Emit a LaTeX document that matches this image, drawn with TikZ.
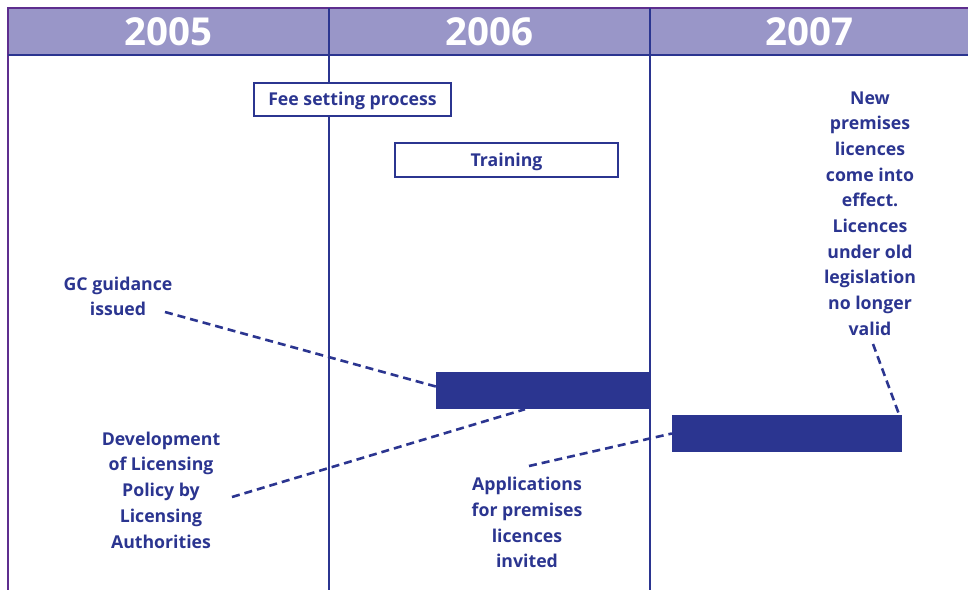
\documentclass[tikz,border=0pt]{standalone}
\usepackage{fontspec}
\setmainfont{Open Sans}
\usetikzlibrary{calc}
\definecolor{dblue}{HTML}{2B3590}
\definecolor{hdr}{HTML}{9996C8}
\definecolor{purp}{HTML}{5E2E8E}
\begin{document}
\begin{tikzpicture}[x=1pt,y=-1pt,
  lbl/.style={text=dblue,font=\fontsize{17.7}{25.7}\selectfont\bfseries,align=center,inner sep=0pt},
  boxed/.style={draw=dblue,line width=2pt,text=dblue,font=\fontsize{17.7}{20}\selectfont\bfseries,inner sep=0pt},
  bar/.style={fill=dblue,draw=none,inner sep=0pt},
  yr/.style={text=white,font=\fontsize{38.5}{40}\selectfont\bfseries,inner sep=0pt},
  lead/.style={draw=dblue,line width=2.6pt,dash pattern=on 8pt off 5pt}]
\useasboundingbox (0,0) rectangle (968,590);
% header
\fill[hdr] (8,8) rectangle (968,55);
\draw[purp,line width=2pt] (968,8) -- (8,8) -- (8,590);
\draw[dblue,line width=2.5pt] (8,55) -- (968,55);
\draw[dblue,line width=2pt] (329,8) -- (329,590);
\draw[dblue,line width=2pt] (650,8) -- (650,590);
\node[yr] (y5) at (168.5,32) {2005};
\node[yr] (y6) at (489.5,32) {2006};
\node[yr] (y7) at (809,32) {2007};
% boxes
\node[boxed,fill=white,minimum width=197pt,minimum height=33pt] (fee) at (352.5,99.5) {};
\node[text=dblue,font=\fontsize{17.7}{20}\selectfont\bfseries,inner sep=0pt] (feet) at (352.5,101) {Fee setting process};
\node[boxed,fill=white,minimum width=223pt,minimum height=34pt] (train) at (506.5,160) {};
\node[text=dblue,font=\fontsize{17.7}{20}\selectfont\bfseries,inner sep=0pt] (traint) at (506.5,162) {Training};
% bars
\node[bar,minimum width=214pt,minimum height=37pt] (bar1) at (543,390.5) {};
\node[bar,minimum width=230pt,minimum height=37pt] (bar2) at (787,433.5) {};
% labels
\node[lbl] (gc) at (118,296.5) {GC guidance\\issued};
\node[lbl] (dev) at (161,490) {Development\\of Licensing\\Policy by\\Licensing\\Authorities};
\node[lbl] (app) at (527,522.5) {Applications\\for premises\\licences\\invited};
\node[lbl] (newp) at (870,213.5) {New\\premises\\licences\\come into\\effect.\\Licences\\under old\\legislation\\no longer\\valid};
% leaders
\coordinate (gcS) at (165,312);
\coordinate (devS) at (232,497);
\coordinate (appS) at (529,466);
\coordinate (newS) at (873,344);
\draw[lead] (gcS) -- ($(bar1.west)+(0,-4)$);
\draw[lead] (devS) -- ($(bar1.south)+(-18,0)$);
\draw[lead] (appS) -- (bar2.west);
\draw[lead] (newS) -- ($(bar2.north east)+(-3,0)$);
\end{tikzpicture}
\end{document}
